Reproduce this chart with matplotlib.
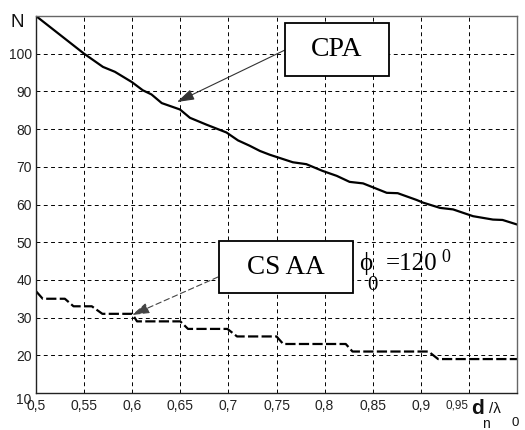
import matplotlib
matplotlib.use('Agg')
import matplotlib.pyplot as plt
from matplotlib.patches import Rectangle
from matplotlib.transforms import Affine2D

W, H = 525, 430

# ---- data ----
cpa_x = [0.5, 0.55, 0.5696, 0.582, 0.5995, 0.611, 0.62, 0.6307, 0.6497, 0.66,
         0.677, 0.698, 0.71, 0.722, 0.7328, 0.743, 0.767, 0.781, 0.798, 0.8126,
         0.826, 0.84, 0.8646, 0.876, 0.8957, 0.9023, 0.92, 0.9335, 0.9543, 0.975,
         0.985, 1.0]
cpa_n = [110, 100, 96.5, 95.2, 92.5, 90.3, 89.2, 86.9, 85.2, 83.0,
         81.2, 79.1, 77.0, 75.6, 74.2, 73.2, 71.2, 70.7, 68.9, 67.6,
         66.0, 65.6, 63.1, 63.0, 61.2, 60.5, 59.1, 58.7, 56.9, 56.0,
         55.9, 54.7]

csaa_x = [0.5, 0.507, 0.530, 0.539, 0.558, 0.569, 0.600, 0.605, 0.650, 0.658,
          0.699, 0.709, 0.750, 0.757, 0.822, 0.829, 0.908, 0.918, 1.0]
csaa_n = [37, 35, 35, 33, 33, 31, 31, 29, 29, 27,
          27, 25, 25, 23, 23, 21, 21, 19, 19]

xticks = [0.5, 0.55, 0.6, 0.65, 0.7, 0.75, 0.8, 0.85, 0.9, 0.95]
xtick_labels = ['0,5', '0,55', '0,6', '0,65', '0,7', '0,75', '0,8', '0,85', '0,9', '0,95']
yticks = [10, 20, 30, 40, 50, 60, 70, 80, 90, 100]
ytick_labels = ['10', '20', '30', '40', '50', '60', '70', '80', '90', '100']

plt.rcParams['font.family'] = ['Liberation Sans', 'DejaVu Sans']

fig = plt.figure(figsize=(W / 100, H / 100), dpi=100)
fig.patch.set_facecolor('white')
ax = fig.add_axes([36 / W, 1 - 393 / H, (517 - 36) / W, (393 - 16) / H])

ax.plot(cpa_x, cpa_n, color='black', lw=1.6, solid_joinstyle='round')
ax.plot(csaa_x, csaa_n, color='black', lw=1.6, linestyle=(0, (4.6, 1.5)))

ax.set_xlim(0.5, 1.0)
ax.set_ylim(10, 110)
ax.set_xticks(xticks)
ax.set_xticklabels(xtick_labels)
ax.set_yticks(yticks)
ax.set_yticklabels(ytick_labels)
ax.grid(True, color='black', lw=0.7, linestyle=(0, (4, 3.5)))
ax.tick_params(axis='both', length=0, labelsize=10, colors='#222')
ax.tick_params(axis='y', pad=3)
ax.tick_params(axis='x', pad=4.5)
ax.get_yticklabels()[0].set_verticalalignment('top')
lbl95 = ax.get_xticklabels()[-1]
lbl95.set_horizontalalignment('right')
lbl95.set_fontsize(8.5)
for s in ['left', 'bottom']:
    ax.spines[s].set_color('#222')
for s in ['top', 'right']:
    ax.spines[s].set_color('#666')
for s in ax.spines.values():
    s.set_linewidth(1.0)

# pixel transform (origin top-left of the image)
T = Affine2D().scale(1, -1).translate(0, H)

# axis labels
fig.text(10.7, 26.7, 'N', transform=T, fontsize=13.5, ha='left', va='baseline', color='#111')
fig.text(471, 414, 'd', transform=T, fontsize=15, fontweight='bold', ha='left', va='baseline', color='#111')
fig.text(482, 428, 'n', transform=T, fontsize=10, ha='left', va='baseline', color='#111')
fig.text(489, 413, '/λ', transform=T, fontsize=11, ha='left', va='baseline', color='#111')
fig.text(512, 426, '0', transform=T, fontsize=9.5, ha='left', va='baseline', color='#111')

# annotation boxes
serif = ['Liberation Serif', 'DejaVu Serif']
r1 = Rectangle((285, 23), 104, 53, transform=T, facecolor='white', edgecolor='black', lw=1.3, zorder=5)
fig.add_artist(r1)
fig.text(337, 50, 'CPA', transform=T, family=serif, fontsize=20, ha='center', va='center', zorder=6)
r2 = Rectangle((219, 241), 134, 52, transform=T, facecolor='white', edgecolor='black', lw=1.3, zorder=5)
fig.add_artist(r2)
fig.text(286, 267, 'CS AA', transform=T, family=serif, fontsize=19.5, ha='center', va='center', zorder=6)

# arrows
ax.annotate('', xy=(177, 102), xytext=(285, 50), xycoords=T, textcoords=T,
            arrowprops=dict(arrowstyle='-|>,head_length=0.7,head_width=0.22', color='#333',
                            lw=0.8, mutation_scale=15, shrinkA=0, shrinkB=0),
            annotation_clip=False)
ax.annotate('', xy=(132, 315), xytext=(218, 277), xycoords=T, textcoords=T,
            arrowprops=dict(arrowstyle='-|>,head_length=0.7,head_width=0.22', color='#444',
                            lw=0.8, linestyle=(0, (5, 3)), mutation_scale=15, shrinkA=0, shrinkB=0),
            annotation_clip=False)

# phi label
fig.text(359, 270, 'ϕ', transform=T, family=serif, fontsize=18, ha='left', va='baseline')
fig.text(367, 290, '0', transform=T, family=serif, fontsize=15, ha='left', va='baseline')
fig.text(386, 270, '=120', transform=T, family=serif, fontsize=18, ha='left', va='baseline')
fig.text(441, 262, '0', transform=T, family=serif, fontsize=13, ha='left', va='baseline')

fig.savefig('out.png', dpi=100, facecolor='white')
